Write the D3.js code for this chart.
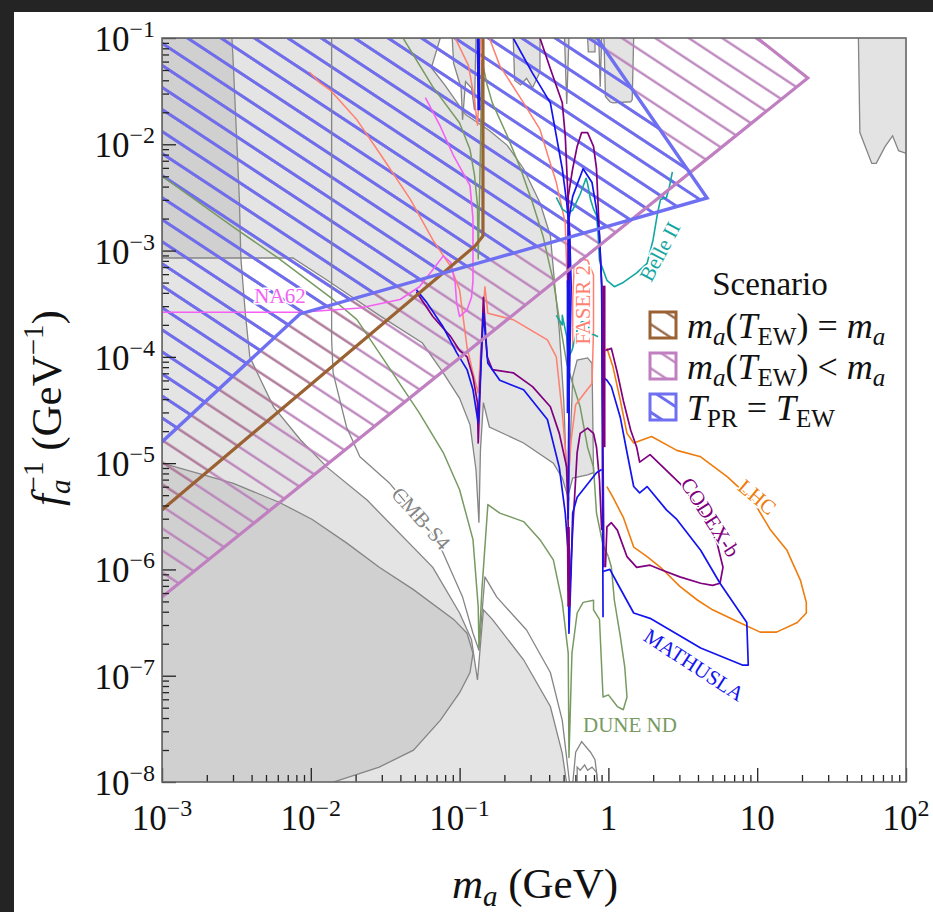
<!DOCTYPE html>
<html>
<head>
<meta charset="utf-8">
<script src="https://cdn.jsdelivr.net/npm/d3@7"></script>
<style>
  body { margin: 0; background: #242424; }
  svg text { font-family: "Liberation Serif", "DejaVu Serif", serif; }
</style>
</head>
<body>
<svg id="chart" width="933" height="912" font-family="Liberation Serif, serif"></svg>
<script>
// all curves are [log10(m_a / GeV), log10(f_a^-1 / GeV^-1)]
const xTicks = [1e-3, 1e-2, 1e-1, 1, 10, 100];
const xTickText = [["10", "−3"], ["10", "−2"], ["10", "−1"], ["1", ""], ["10", ""], ["10", "2"]];
const yTicks = [1e-8, 1e-7, 1e-6, 1e-5, 1e-4, 1e-3, 1e-2, 1e-1];
const yTickText = [["10", "−8"], ["10", "−7"], ["10", "−6"], ["10", "−5"], ["10", "−4"], ["10", "−3"], ["10", "−2"], ["10", "−1"]];

// grey excluded regions
const regionLow = [[-3, -1], [-2.53, -1], [-2.52, -1.27], [-2.50, -1.89], [-2.48, -2.52], [-2.47, -3.07], [-2.44, -3.59],
  [-2.41, -4.00], [-2.36, -4.15], [-2.25, -4.47], [-2.07, -4.78], [-1.89, -5.04], [-1.62, -5.35], [-1.18, -5.98],
  [-1.00, -6.41], [-0.92, -6.66], [-0.88, -7.04], [-0.84, -6.38], [-0.78, -6.47], [-0.57, -6.85], [-0.39, -7.29],
  [-0.31, -7.73], [-0.28, -8.02], [-3, -8.02]];
const regionHigh = [[-3, -1], [-1.13, -1], [-1.19, -1.28], [-1.10, -1.44], [-0.96, -1.72], [-0.80, -1.87], [-0.68, -2.01],
  [-0.57, -2.23], [-0.46, -2.55], [-0.39, -2.86], [-0.36, -3.33], [-0.33, -3.75], [-0.30, -4.41], [-0.28, -5.16],
  [-0.265, -5.35], [-0.31, -5.14], [-0.37, -5.00], [-0.57, -4.81], [-0.80, -4.66], [-0.84, -4.43], [-0.86, -4.88],
  [-0.87, -5.56], [-0.89, -5.06], [-0.93, -4.64], [-1.00, -4.39], [-1.11, -4.15], [-1.25, -3.87], [-1.54, -3.61],
  [-1.89, -3.28], [-2.12, -3.07], [-3, -3.07]];
const regionCore = [[-3, -5.00], [-2.52, -5.19], [-2.21, -5.37], [-1.99, -5.53], [-1.76, -5.75], [-1.54, -5.98],
  [-1.31, -6.19], [-1.04, -6.47], [-0.95, -6.60], [-0.91, -6.79], [-0.93, -6.97], [-1.00, -7.16], [-1.13, -7.42],
  [-1.31, -7.70], [-1.54, -7.86], [-1.89, -8.02], [-3, -8.02]];
const bumpEta = [[-0.27, -5.30], [-0.24, -4.19], [-0.21, -4.03], [-0.14, -4.01], [-0.11, -4.06], [-0.10, -5.09],
  [-0.14, -5.11], [-0.24, -5.14]];
const toothA = [[-1.05, -0.99], [-1.04, -1.24], [-0.99, -1.47], [-0.98, -1.77], [-0.96, -1.41], [-0.92, -1.47], [-0.90, -1.68], [-0.89, -0.99]];
const toothB = [[-0.64, -0.99], [-0.63, -1.40], [-0.59, -1.44], [-0.55, -1.38], [-0.51, -1.47], [-0.49, -1.41], [-0.46, -1.32], [-0.46, -0.99]];
const toothC = [[-0.295, -0.99], [-0.28, -1.62], [-0.265, -0.99]];
const toothD = [[-0.14, -0.99], [-0.135, -1.13], [-0.09, -1.13], [-0.09, -0.99]];
const toothE = [[-0.065, -0.99], [-0.055, -1.46], [-0.045, -0.99]];
const toothF = [[-0.03, -0.99], [-0.02, -1.55], [0.01, -1.60], [0.03, -1.61], [0.15, -1.60], [0.16, -1.58], [0.17, -0.99]];
const toothHigh = [[1.68, -0.99], [1.69, -1.89], [1.77, -2.18], [1.80, -2.18], [1.86, -2.02], [1.91, -1.92], [1.95, -2.06], [2.01, -2.09], [2.01, -0.99]];
const bottomOuter = [[-0.24, -8.02], [-0.22, -7.72], [-0.18, -7.62], [-0.12, -7.72], [-0.09, -7.79], [-0.07, -8.02]];
const bottomInner = [[-0.21, -8.02], [-0.21, -7.86], [-0.19, -7.89], [-0.16, -7.84], [-0.14, -7.89], [-0.11, -7.86], [-0.08, -7.91], [-0.075, -8.02]];

// scenario regions
const scenarioLess = [[-3, -6.26], [1.34, -1.376], [1.0, -1.0], [-3, -1.0]];
const scenarioEqual = [[-3, -5.44], [-0.896, -2.957], [-0.843, -2.863], [-0.843, -1.0], [-3, -1.0]];
const scenarioPR = [[-3, -4.80], [-2.073, -3.596], [0.663, -2.505], [-0.077, -1.0], [-3, -1.0]];
const edgeLess = [[-3, -6.26], [1.34, -1.376], [1.0, -1.0]];
const edgeEqual = [[-3, -5.44], [-0.896, -2.957], [-0.843, -2.863], [-0.843, -1.0]];
const edgePR = [[-3, -4.80], [-2.073, -3.596], [0.663, -2.505], [-0.077, -1.0]];

// projected sensitivities
const cmbS4 = [[-1.86, -1], [-1.86, -3.84], [-1.85, -4.15], [-1.76, -4.66], [-1.67, -4.94], [-1.47, -5.19], [-1.15, -5.72],
  [-0.98, -6.26], [-0.91, -6.60], [-0.87, -6.76], [-0.83, -6.07], [-0.75, -6.26], [-0.55, -6.57], [-0.39, -6.97],
  [-0.31, -7.42], [-0.26, -8.02]];
const na62 = [[-3, -3.58], [-2.07, -3.58], [-1.67, -3.54], [-1.40, -3.46], [-1.27, -3.34], [-1.18, -3.18], [-1.11, -3.05],
  [-1.06, -3.11], [-1.03, -3.30], [-1.02, -3.49], [-1.00, -3.62], [-0.95, -3.56], [-0.92, -3.44], [-0.91, -3.28],
  [-0.91, -3.02], [-0.91, -2.70], [-0.93, -2.39], [-1.04, -2.11], [-1.13, -1.83], [-1.23, -1.56]];
const faserLow = [[-2.01, -1.32], [-1.94, -1.42], [-1.87, -1.49], [-1.69, -1.77], [-1.52, -2.12], [-1.33, -2.52], [-1.18, -2.90],
  [-1.06, -3.15], [-1.00, -3.37], [-0.95, -3.91], [-0.91, -4.15], [-0.875, -4.34], [-0.85, -3.75], [-0.83, -3.34],
  [-0.81, -3.59], [-0.64, -3.65], [-0.41, -3.84], [-0.35, -4.00], [-0.31, -4.53], [-0.27, -5.19], [-0.25, -4.78],
  [-0.22, -4.45], [-0.16, -4.34], [-0.11, -4.25], [-0.10, -3.75], [-0.10, -3.23], [-0.14, -3.09], [-0.19, -3.08],
  [-0.23, -3.16], [-0.24, -3.46], [-0.24, -3.91]];
const faserHigh = [[-0.80, -1], [-0.73, -1.26], [-0.57, -1.61], [-0.46, -1.86], [-0.39, -2.18], [-0.35, -2.36], [-0.29, -2.74],
  [-0.28, -3.17], [-0.27, -3.46]];
const faserPi = [[-1.03, -1], [-0.94, -1.26], [-0.90, -1.58], [-0.88, -1.82], [-0.87, -1.58], [-0.86, -1]];
const duneLow = [[-3, -2.30], [-2.52, -2.78], [-2.23, -3.06], [-1.85, -3.46], [-1.69, -3.65], [-1.45, -4.15], [-1.27, -4.53],
  [-1.11, -4.90], [-1.00, -5.25], [-0.91, -5.72], [-0.875, -6.35], [-0.87, -6.73], [-0.85, -6.19], [-0.81, -5.39],
  [-0.73, -5.47], [-0.57, -5.55], [-0.46, -5.72], [-0.37, -5.91], [-0.31, -6.31], [-0.27, -6.79], [-0.265, -7.77],
  [-0.245, -6.79], [-0.21, -6.41], [-0.17, -6.31], [-0.10, -6.29], [-0.10, -6.38], [-0.06, -6.47], [-0.036, -7.20],
  [0.00, -7.18], [0.06, -7.29], [0.10, -7.32], [0.125, -7.20], [0.11, -6.92], [0.08, -6.63], [0.04, -6.29],
  [0.02, -5.98], [0.00, -5.88]];
const duneHigh = [[-1.38, -1], [-1.18, -1.46], [-1.00, -1.80], [-0.93, -2.05], [-0.90, -2.29], [-0.88, -2.57], [-0.875, -3.08],
  [-0.86, -2.05], [-0.85, -1.21], [-0.815, -1.44], [-0.78, -1.61], [-0.68, -1.92], [-0.59, -2.23], [-0.51, -2.55],
  [-0.44, -2.86], [-0.39, -3.17], [-0.37, -3.28], [-0.33, -3.65], [-0.28, -4.06], [-0.24, -4.25], [-0.19, -4.47],
  [-0.14, -4.85], [-0.10, -5.04], [-0.08, -5.47], [-0.036, -5.77], [0.00, -5.88]];
const belle = [[-0.35, -2.50], [-0.31, -2.61], [-0.27, -2.65], [-0.24, -2.62], [-0.19, -2.47], [-0.15, -2.32], [-0.14, -2.37],
  [-0.12, -2.52], [-0.10, -2.61], [-0.08, -2.67], [-0.07, -2.83], [-0.06, -3.09], [-0.01, -3.28], [0.04, -3.34],
  [0.10, -3.30], [0.19, -3.21], [0.26, -3.12], [0.30, -2.90], [0.33, -2.65], [0.35, -2.52], [0.39, -2.50],
  [0.41, -2.40], [0.43, -2.26]];
const belleLow = [[-0.35, -3.61], [-0.31, -3.70], [-0.31, -3.61], [-0.28, -3.81], [-0.27, -4.01], [-0.245, -3.94],
  [-0.21, -3.75], [-0.18, -3.67], [-0.14, -3.67], [-0.12, -3.79], [-0.10, -3.79], [-0.07, -3.81]];
const lhc = [[-0.01, -3.92], [0.03, -4.09], [0.08, -4.41], [0.125, -4.72], [0.17, -4.81], [0.29, -4.75], [0.46, -4.88],
  [0.62, -4.94], [0.80, -5.13], [0.97, -5.35], [1.09, -5.63], [1.20, -5.82], [1.29, -6.10], [1.33, -6.31], [1.33, -6.41],
  [1.27, -6.50], [1.13, -6.59], [1.02, -6.59], [0.88, -6.50], [0.70, -6.38], [0.60, -6.29], [0.48, -6.16], [0.35, -5.98],
  [0.26, -5.88], [0.17, -5.79], [0.10, -5.51], [0.03, -5.32], [-0.01, -5.22]];
const codexLow = [[-1.29, -3.39], [-1.18, -3.62], [-1.06, -3.81], [-1.00, -3.94], [-0.95, -4.00], [-0.91, -4.19], [-0.88, -4.43],
  [-0.875, -4.81], [-0.84, -3.44], [-0.815, -4.00], [-0.78, -4.12], [-0.64, -4.15], [-0.51, -4.28], [-0.39, -4.47],
  [-0.33, -4.72], [-0.28, -5.04], [-0.27, -5.60], [-0.265, -6.35], [-0.25, -5.91], [-0.24, -5.63], [-0.21, -4.90],
  [-0.19, -4.72], [-0.14, -4.67], [-0.10, -4.72], [-0.08, -4.85], [-0.06, -5.16], [-0.045, -5.63]];
const codexHigh = [[-0.46, -1], [-0.39, -1.29], [-0.35, -1.45], [-0.31, -1.61], [-0.29, -1.92], [-0.28, -2.23], [-0.27, -2.55],
  [-0.26, -2.86], [-0.26, -3.33], [-0.265, -4.41], [-0.27, -5.44]];
const codexBump = [[-0.27, -3.46], [-0.27, -2.49], [-0.24, -2.23], [-0.21, -2.02], [-0.18, -1.89], [-0.14, -1.89], [-0.10, -2.02],
  [-0.08, -2.23], [-0.07, -2.55], [-0.06, -2.86], [-0.045, -3.33], [-0.03, -5.98]];
const codexHeavy = [[-0.02, -3.94], [0.02, -3.92], [0.06, -4.15], [0.10, -4.41], [0.15, -4.69], [0.19, -4.85], [0.21, -4.99],
  [0.28, -4.92], [0.48, -5.19], [0.62, -5.44], [0.73, -5.75], [0.77, -5.98], [0.75, -6.13], [0.70, -6.15], [0.62, -6.13],
  [0.48, -6.07], [0.35, -6.00], [0.28, -5.96], [0.19, -5.98], [0.125, -5.88], [0.06, -5.63], [0.02, -5.56], [-0.01, -5.60],
  [-0.02, -5.98]];
const mathLow = [[-1.29, -3.37], [-1.22, -3.49], [-1.11, -3.72], [-1.02, -3.96], [-0.95, -4.12], [-0.91, -4.31], [-0.875, -4.62],
  [-0.84, -3.59], [-0.81, -4.06], [-0.73, -4.22], [-0.57, -4.31], [-0.41, -4.59], [-0.33, -5.04], [-0.29, -5.47],
  [-0.27, -5.84], [-0.265, -6.60], [-0.25, -6.00], [-0.24, -5.47], [-0.21, -5.32], [-0.08, -5.09], [-0.045, -5.06]];
const mathHigh = [[-0.64, -1], [-0.51, -1.33], [-0.39, -1.61], [-0.35, -1.92], [-0.31, -2.23], [-0.28, -2.55], [-0.26, -2.86],
  [-0.25, -3.33], [-0.265, -4.41], [-0.27, -5.53]];
const mathBump = [[-0.27, -4.41], [-0.27, -2.74], [-0.24, -2.49], [-0.17, -2.23], [-0.11, -2.36], [-0.08, -2.61], [-0.06, -2.86],
  [-0.045, -3.33], [-0.036, -6.45]];
const mathHeavy = [[-0.036, -6.02], [0.01, -6.00], [0.06, -6.13], [0.17, -6.41], [0.28, -6.46], [0.62, -6.74], [0.90, -6.90],
  [0.94, -6.90], [0.93, -6.50], [0.75, -6.13], [0.62, -5.82], [0.46, -5.53], [0.39, -5.44], [0.26, -5.22], [0.21, -5.28],
  [0.17, -5.22], [0.125, -4.90], [0.08, -4.57], [0.02, -4.28], [-0.01, -4.22], [-0.036, -4.19]];
const mathSpikes = [[[-0.875, -1], [-0.87, -1.68]], [[-0.27, -3.28], [-0.27, -4.53]]];
const codexSpikes = [[[-0.27, -5.60], [-0.265, -6.35]], [[-0.03, -3.33], [-0.03, -4.85]]];

const labels = [
  { t: "CMB-S4", c: "#858585", p: [-1.26, -5.52], r: 48 },
  { t: "DUNE ND", c: "#789a62", p: [0.145, -7.46], r: 0 },
  { t: "MATHUSLA", c: "#1414ee", p: [0.575, -6.90], r: 33 },
  { t: "CODEX-b", c: "#800080", p: [0.683, -5.51], r: 57 },
  { t: "LHC", c: "#ee7c0e", p: [1.0, -5.32], r: 40 },
  { t: "Belle II", c: "#14a6a0", p: [0.347, -3.01], r: -62 },
  { t: "FASER 2", c: "#ff7f70", p: [-0.171, -3.51], r: -90 },
  { t: "NA62", c: "#f45ff4", p: [-2.207, -3.43], r: 0 }
];

const svg = d3.select("#chart");
svg.append("rect").attr("width", 933).attr("height", 912).attr("fill", "#242424");
svg.append("rect").attr("x", 14).attr("y", 12).attr("width", 919).attr("height", 900).attr("fill", "#fff");

const size = 744;
const x = d3.scaleLog().domain([1e-3, 1e2]).range([0, size]);
const y = d3.scaleLog().domain([1e-8, 1e-1]).range([size, 0]);
const px = d => x(Math.pow(10, d[0]));
const py = d => y(Math.pow(10, d[1]));
const line = d3.line().x(px).y(py);

const defs = svg.append("defs");
defs.append("clipPath").attr("id", "clip").append("rect").attr("width", size).attr("height", size);
function hatch(id, color, w) {
  const p = defs.append("pattern").attr("id", id).attr("patternUnits", "userSpaceOnUse")
    .attr("width", 40).attr("height", 18.4).attr("patternTransform", "rotate(33.4)");
  p.append("line").attr("x1", -2).attr("x2", 42).attr("y1", 4.4).attr("y2", 4.4)
    .attr("stroke", color).attr("stroke-width", w);
}
hatch("hLess", "#b97fba", 2.2);
hatch("hEqual", "#8e6040", 2.2);
hatch("hPR", "#6d6def", 3);

const g = svg.append("g").attr("transform", "translate(162,38)");
const plot = g.append("g").attr("clip-path", "url(#clip)");

// grey regions
plot.selectAll(".shade").data([regionLow, regionHigh, regionCore]).join("path")
  .attr("d", d => line(d) + "Z")
  .attr("fill", "#979797").attr("fill-opacity", 0.26)
  .attr("stroke", "#858585").attr("stroke-width", 1.3);
plot.selectAll(".solid").data([bumpEta, toothA, toothB, toothC, toothD, toothE, toothF, toothHigh]).join("path")
  .attr("d", d => line(d) + "Z")
  .attr("fill", "#e3e3e3").attr("stroke", "#858585").attr("stroke-width", 1.3);
plot.selectAll(".bot").data([bottomOuter, bottomInner]).join("path")
  .attr("d", line).attr("fill", "none").attr("stroke", "#858585").attr("stroke-width", 1.3);

// hatched scenarios
plot.append("path").attr("d", line(scenarioLess) + "Z").attr("fill", "url(#hLess)");
plot.append("path").attr("d", line(scenarioEqual) + "Z").attr("fill", "url(#hEqual)").attr("opacity", 0.3);
plot.append("path").attr("d", line(scenarioPR) + "Z").attr("fill", "url(#hPR)");

// sensitivity curves
const curves = [
  [cmbS4, "#858585", 1.3],
  [duneLow, "#789a62", 1.5], [duneHigh, "#789a62", 1.5],
  [faserLow, "#ff7f70", 1.5], [faserHigh, "#ff7f70", 1.5], [faserPi, "#ff7f70", 1.5],
  [na62, "#f45ff4", 1.6],
  [belle, "#14a6a0", 1.6], [belleLow, "#14a6a0", 1.6],
  [lhc, "#ee7c0e", 1.6],
  [codexLow, "#800080", 1.7], [codexHigh, "#800080", 1.7], [codexBump, "#800080", 1.7], [codexHeavy, "#800080", 1.7],
  [mathLow, "#1414ee", 1.7], [mathHigh, "#1414ee", 1.7], [mathBump, "#1414ee", 1.7], [mathHeavy, "#1414ee", 1.7]
];
plot.selectAll(".curve").data(curves).join("path")
  .attr("d", d => line(d[0])).attr("fill", "none")
  .attr("stroke", d => d[1]).attr("stroke-width", d => d[2]).attr("stroke-linejoin", "round");
plot.selectAll(".mspike").data(mathSpikes).join("path").attr("d", line)
  .attr("stroke", "#1414ee").attr("stroke-width", 3.2).attr("fill", "none");
plot.selectAll(".cspike").data(codexSpikes).join("path").attr("d", line)
  .attr("stroke", "#800080").attr("stroke-width", 3.2).attr("fill", "none");

// scenario edges
plot.append("path").attr("d", line(edgeLess)).attr("fill", "none").attr("stroke", "#c07fc0").attr("stroke-width", 3.2);
plot.append("path").attr("d", line(edgeEqual)).attr("fill", "none").attr("stroke", "#9a6232").attr("stroke-width", 3.2);
plot.append("path").attr("d", line(edgePR)).attr("fill", "none").attr("stroke", "#6f6ff2").attr("stroke-width", 3.4);

// curve labels
plot.selectAll(".lab").data(labels).join("text")
  .attr("transform", d => "translate(" + px(d.p) + "," + py(d.p) + ") rotate(" + d.r + ")")
  .attr("text-anchor", "middle").attr("dominant-baseline", "central")
  .attr("font-size", 21).attr("fill", d => d.c)
  .attr("stroke", "#fff").attr("stroke-width", 3).attr("paint-order", "stroke")
  .text(d => d.t);

// axes
const minorX = [], minorY = [];
for (let k = -3; k < 2; k++) for (let j = 2; j < 10; j++) minorX.push(j * Math.pow(10, k));
for (let k = -8; k < -1; k++) for (let j = 2; j < 10; j++) minorY.push(j * Math.pow(10, k));
function styleAxis(a) {
  a.select(".domain").remove();
  a.selectAll("line").attr("stroke", "#222").attr("stroke-width", 1.3);
}
g.append("g").attr("transform", "translate(0," + size + ")")
  .call(d3.axisBottom(x).tickValues(xTicks).tickSize(-14).tickFormat("")).call(styleAxis);
g.append("g").attr("transform", "translate(0," + size + ")")
  .call(d3.axisBottom(x).tickValues(minorX).tickSize(-7).tickFormat("")).call(styleAxis);
g.append("g").call(d3.axisLeft(y).tickValues(yTicks).tickSize(-14).tickFormat("")).call(styleAxis);
g.append("g").call(d3.axisLeft(y).tickValues(minorY).tickSize(-7).tickFormat("")).call(styleAxis);
g.append("rect").attr("width", size).attr("height", size).attr("fill", "none")
  .attr("stroke", "#666").attr("stroke-width", 1.6);

// tick labels
g.selectAll(".xt").data(xTicks).join("text")
  .attr("x", d => x(d)).attr("y", size + 48).attr("text-anchor", "middle").attr("font-size", 35).attr("fill", "#111")
  .each(function (d, i) {
    const t = d3.select(this);
    t.append("tspan").text(xTickText[i][0]);
    if (xTickText[i][1]) t.append("tspan").attr("font-size", 24).attr("dy", -14).text(xTickText[i][1]);
  });
g.selectAll(".yt").data(yTicks).join("text")
  .attr("x", -7).attr("y", d => y(d) + 13).attr("text-anchor", "end").attr("font-size", 35).attr("fill", "#111")
  .each(function (d, i) {
    const t = d3.select(this);
    t.append("tspan").text(yTickText[i][0]);
    t.append("tspan").attr("font-size", 24).attr("dy", -14).text(yTickText[i][1]);
  });

// axis titles
const xt = svg.append("text").attr("x", 535).attr("y", 898).attr("text-anchor", "middle").attr("font-size", 43).attr("fill", "#111");
xt.append("tspan").attr("font-style", "italic").text("m");
xt.append("tspan").attr("font-size", 29).attr("font-style", "italic").attr("dy", 8).text("a");
xt.append("tspan").attr("dy", -8).text("\u00a0(GeV)");

const yt = svg.append("text").attr("transform", "translate(61,408) rotate(-90)")
  .attr("text-anchor", "middle").attr("font-size", 43).attr("fill", "#111");
yt.append("tspan").attr("font-style", "italic").text("f");
yt.append("tspan").attr("font-size", 29).attr("font-style", "italic").attr("dy", 9).text("a");
yt.append("tspan").attr("font-size", 29).attr("dx", -13).attr("dy", -27).text("−1");
yt.append("tspan").attr("dy", 18).text("\u00a0(GeV");
yt.append("tspan").attr("font-size", 29).attr("dy", -18).text("−1");
yt.append("tspan").attr("dy", 18).text(")");

// legend
svg.append("text").attr("x", 770).attr("y", 295).attr("text-anchor", "middle").attr("font-size", 33).attr("fill", "#111").text("Scenario");
const legend = [
  { fill: "url(#hEqual)", stroke: "#9a6232", parts: [["m", 1, 0], ["a", 1, 1], ["(", 0, 0], ["T", 1, 0], ["EW", 0, 1], [")\u00a0=\u00a0", 0, 0], ["m", 1, 0], ["a", 1, 1]] },
  { fill: "url(#hLess)", stroke: "#c07fc0", parts: [["m", 1, 0], ["a", 1, 1], ["(", 0, 0], ["T", 1, 0], ["EW", 0, 1], [")\u00a0<\u00a0", 0, 0], ["m", 1, 0], ["a", 1, 1]] },
  { fill: "url(#hPR)", stroke: "#6f6ff2", parts: [["T", 1, 0], ["PR", 0, 1], ["\u00a0=\u00a0", 0, 0], ["T", 1, 0], ["EW", 0, 1]] }
];
legend.forEach((e, i) => {
  const yy = 312 + i * 41;
  svg.append("rect").attr("x", 650).attr("y", yy).attr("width", 26).attr("height", 26)
    .attr("fill", e.fill).attr("stroke", e.stroke).attr("stroke-width", 3);
  const t = svg.append("text").attr("x", 687).attr("y", yy + 26).attr("font-size", 36).attr("fill", "#111");
  let sub = 0;
  e.parts.forEach(p => {
    const s = t.append("tspan").text(p[0]);
    if (p[1]) s.attr("font-style", "italic");
    const dy = (p[2] ? 7 : 0) - sub;
    if (dy) s.attr("dy", dy);
    if (p[2]) s.attr("font-size", 25);
    sub = p[2] ? 7 : 0;
  });
});
</script>
</body>
</html>
